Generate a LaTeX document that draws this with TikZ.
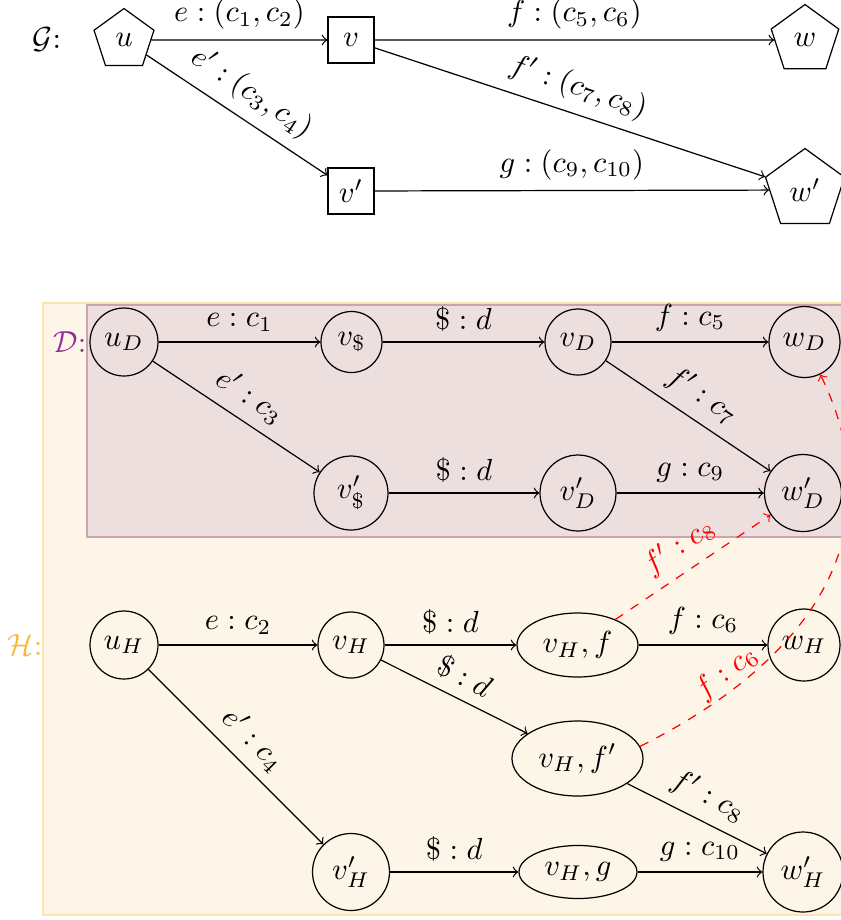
\documentclass[tikz,border=0pt]{standalone}
\usetikzlibrary{shapes.geometric}
\newcommand\pxu{0.328pt}
\definecolor{hfill}{HTML}{FDF5E8}
\definecolor{hdraw}{HTML}{FDE3B0}
\definecolor{dfill}{HTML}{EEDFDF}
\definecolor{ddraw}{HTML}{CBA3AD}
\definecolor{dlab}{HTML}{952D98}
\definecolor{hlab}{HTML}{F9B73D}
\tikzset{
  arr/.style={->},
  redarr/.style={->, red, dashed},
  pent/.style={draw, regular polygon, regular polygon sides=5, inner sep=0pt},
  sq/.style={draw, rectangle, minimum size=46*\pxu, inner sep=0pt},
  cnode/.style={draw, circle, inner sep=0pt},
  enode/.style={draw, ellipse, inner sep=0pt},
  lab/.style={inner sep=0pt},
}
\begin{document}
\begin{tikzpicture}[x=0.328pt, y=-0.328pt]
\clip (0,0) rectangle (841,920);
% ---------- top graph G ----------
\node[lab] (lG) at (47,40) {$\mathcal{G}$:};
\node[pent, minimum size=63*\pxu] (u) at (124,40) {$u$};
\node[sq] (v) at (351,40) {$v$};
\node[sq] (vp) at (351,191) {$v'$};
\node[pent, minimum size=71*\pxu] (w) at (805,40) {$w$};
\node[pent, minimum size=83*\pxu] (wp) at (805,190) {$w'$};
\draw[arr] (u) -- node[above] {$e:(c_1,c_2)$} (v);
\draw[arr] (u) -- node[above, sloped] {$e':(c_3,c_4)$} (vp);
\draw[arr] (v) -- node[above] {$f:(c_5,c_6)$} (w);
\draw[arr] (v) -- node[above, sloped] {$f':(c_7,c_8)$} (wp);
\draw[arr] (vp) -- node[above] {$g:(c_9,c_{10})$} (wp);
% ---------- boxes ----------
\filldraw[fill=hfill, draw=hdraw] (43,303) rectangle (870,915);
\filldraw[fill=dfill, draw=ddraw] (87,305) rectangle (870,537);
\node[lab, text=dlab] (lD) at (70,342) {$\mathcal{D}$:};
\node[lab, text=hlab] (lH) at (25,645) {$\mathcal{H}$:};
% ---------- D ----------
\node[cnode, minimum size=68*\pxu] (uD) at (124,342) {$u_D$};
\node[cnode, minimum size=61*\pxu] (vS) at (351.5,342) {$v_{\$}$};
\node[cnode, minimum size=74*\pxu] (vSp) at (351,493) {$v'_{\$}$};
\node[cnode, minimum size=66*\pxu] (vD) at (578,342) {$v_D$};
\node[cnode, minimum size=71*\pxu] (wD) at (804.5,342) {$w_D$};
\node[cnode, minimum size=76*\pxu] (vDp) at (578,493) {$v'_D$};
\node[cnode, minimum size=77*\pxu] (wDp) at (803,493) {$w'_D$};
\draw[arr] (uD) -- node[above] {$e:c_1$} (vS);
\draw[arr] (vS) -- node[above] {$\$:d$} (vD);
\draw[arr] (vD) -- node[above] {$f:c_5$} (wD);
\draw[arr] (uD) -- node[above, sloped] {$e':c_3$} (vSp);
\draw[arr] (vSp) -- node[above] {$\$:d$} (vDp);
\draw[arr] (vDp) -- node[above] {$g:c_9$} (wDp);
\draw[arr] (vD) -- node[above, sloped] {$f':c_7$} (wDp);
% ---------- H ----------
\node[cnode, minimum size=68*\pxu] (uH) at (124,645) {$u_H$};
\node[cnode, minimum size=66*\pxu] (vH) at (351,645) {$v_H$};
\node[cnode, minimum size=77*\pxu] (vHp) at (351,872) {$v'_H$};
\node[enode, minimum width=121*\pxu, minimum height=64*\pxu] (vHf) at (577.5,645) {$v_H,f$};
\node[enode, minimum width=131*\pxu, minimum height=75*\pxu] (vHfp) at (577.5,758.5) {$v_H,f'$};
\node[enode, minimum width=118*\pxu, minimum height=53*\pxu] (vHg) at (578,872) {$v_H,g$};
\node[cnode, minimum size=72*\pxu] (wH) at (804,645) {$w_H$};
\node[cnode, minimum size=80*\pxu] (wHp) at (803,872) {$w'_H$};
\draw[arr] (uH) -- node[above] {$e:c_2$} (vH);
\draw[arr] (vH) -- node[above] {$\$:d$} (vHf);
\draw[arr] (vHf) -- node[above] {$f:c_6$} (wH);
\draw[arr] (vH) -- node[above, sloped] {$\$:d$} (vHfp);
\draw[arr] (uH) -- node[above, sloped] {$e':c_4$} (vHp);
\draw[arr] (vHfp) -- node[above, sloped] {$f':c_8$} (wHp);
\draw[arr] (vHp) -- node[above] {$\$:d$} (vHg);
\draw[arr] (vHg) -- node[above] {$g:c_{10}$} (wHp);
% ---------- red dashed ----------
\draw[redarr] (vHf) -- node[above, sloped] {$f':c_8$} (wDp);
\draw[redarr] (vHfp.11) .. controls (793,670) and (904,547) .. node[pos=0.23, above, sloped, inner sep=1pt] {$f:c_6$} (wD.-64);
\end{tikzpicture}
\end{document}
